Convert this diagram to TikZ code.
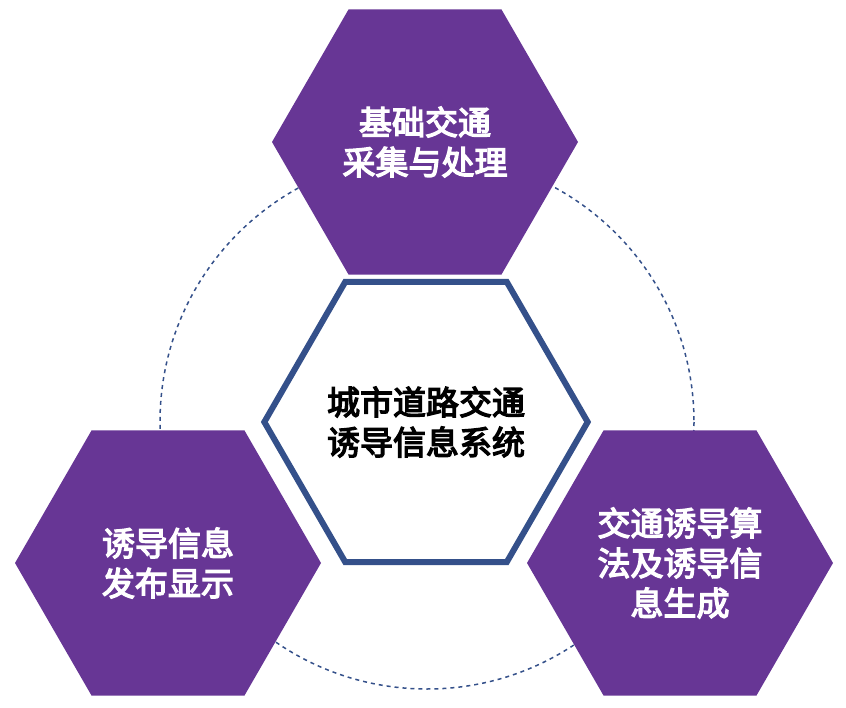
\documentclass[tikz,border=0pt]{standalone}
\usepackage{fontspec}
\newfontfamily\cjk[FakeBold=4]{Noto Sans CJK SC}
\usetikzlibrary{shapes.geometric}
\definecolor{hexpurple}{HTML}{673695}
\definecolor{hexblue}{HTML}{34508A}
\begin{document}
\begin{tikzpicture}[x=1pt,y=-1pt,
  hexa/.style={regular polygon,regular polygon sides=6,minimum size=306pt,inner sep=0pt,
    fill=hexpurple,text=white,align=center,font=\cjk\fontsize{33}{40}\selectfont},
  hexc/.style={regular polygon,regular polygon sides=6,minimum size=302pt,inner sep=0pt,
    draw=hexblue,line width=6pt,fill=white,text=black,align=center,font=\cjk\fontsize{33}{40}\selectfont}]
\useasboundingbox (0,0) rectangle (846,708);
\coordinate (o) at (427,422);
\draw[hexblue,line width=1.5pt,dash pattern=on 4pt off 4pt] (o) circle (267);
\node[hexa] (top) at (425,142) {基础交通\\采集与处理};
\node[hexc] (mid) at (426,422) {城市道路交通\\诱导信息系统};
\node[hexa] (left) at (168,563) {诱导信息\\发布显示};
\node[hexa] (right) at (680,563) {交通诱导算\\法及诱导信\\息生成};
\end{tikzpicture}
\end{document}
